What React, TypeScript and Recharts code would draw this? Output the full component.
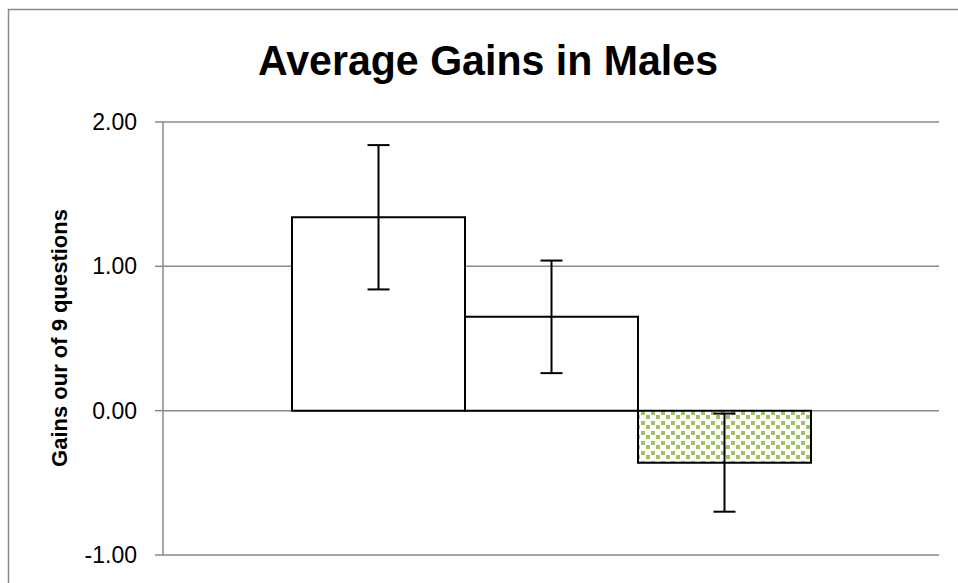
import { Bar, BarChart, CartesianGrid, ErrorBar, XAxis, YAxis } from "recharts";

// one category, three bars side by side
const category = "Males";
const seriesKeys = ["groupA", "groupB", "groupC"];
const means = [1.34, 0.65, -0.36];
const errors = [0.5, 0.39, 0.34];
const yTicks = [-1, 0, 1, 2];

const row: Record<string, string | number> = { name: category };
seriesKeys.forEach((k, i) => {
  row[k] = means[i];
  row[k + "Err"] = errors[i];
});
const data = [row];

const fills = ["#ffffff", "#ffffff", "url(#greenDots)"];
const gridGray = "#8a8a8a";
const font = "'Liberation Sans', Arial, sans-serif";

const App = () => {
  return (
    <div
      style={{
        position: "absolute",
        left: 0,
        top: 0,
        width: 958,
        height: 583,
        overflow: "hidden",
        background: "#fff",
      }}
    >
      <svg
        width={958}
        height={583}
        style={{ position: "absolute", left: 0, top: 0 }}
      >
        <rect
          x={8.5}
          y={9.5}
          width={1000}
          height={1000}
          fill="#fff"
          stroke={gridGray}
          strokeWidth={1.5}
        />
        <text
          x={488}
          y={75}
          textAnchor="middle"
          fontFamily={font}
          fontWeight="bold"
          fontSize={42}
          textLength={460}
          lengthAdjust="spacingAndGlyphs"
          fill="#000"
        >
          Average Gains in Males
        </text>
        <text
          x={67}
          y={338}
          transform="rotate(-90, 67, 338)"
          textAnchor="middle"
          fontFamily={font}
          fontWeight="bold"
          fontSize={22}
          fill="#000"
        >
          Gains our of 9 questions
        </text>
      </svg>
      <div style={{ position: "absolute", left: 0, top: 0 }}>
        <BarChart
          width={958}
          height={583}
          data={data}
          margin={{ top: 122, right: 19, bottom: 28, left: 0 }}
          barCategoryGap={129}
          barGap={0}
        >
          <defs>
            <pattern
              id="greenDots"
              width={10}
              height={10}
              patternUnits="userSpaceOnUse"
            >
              <rect width={10} height={10} fill="#fff" />
              <rect x={1} y={1} width={4} height={4} fill="#9fc162" />
              <rect x={6} y={5} width={4} height={4} fill="#9fc162" />
            </pattern>
          </defs>
          <CartesianGrid
            vertical={false}
            stroke={gridGray}
            strokeWidth={1.5}
          />
          <XAxis dataKey="name" hide />
          <YAxis
            width={163}
            domain={[-1, 2]}
            ticks={yTicks}
            interval={0}
            tickFormatter={(v: number) => v.toFixed(2)}
            tickSize={8}
            tickMargin={18}
            axisLine={{ stroke: gridGray, strokeWidth: 1.5 }}
            tickLine={{ stroke: gridGray, strokeWidth: 1.5 }}
            tick={{ fill: "#000", fontSize: 23, fontFamily: font }}
          />
          {seriesKeys.map((k, i) => (
            <Bar
              key={k}
              dataKey={k}
              fill={fills[i]}
              stroke="#000"
              strokeWidth={2}
              isAnimationActive={false}
            >
              <ErrorBar
                dataKey={k + "Err"}
                direction="y"
                width={11}
                stroke="#000"
                strokeWidth={2}
                isAnimationActive={false}
              />
            </Bar>
          ))}
        </BarChart>
      </div>
    </div>
  );
};

export default App;
